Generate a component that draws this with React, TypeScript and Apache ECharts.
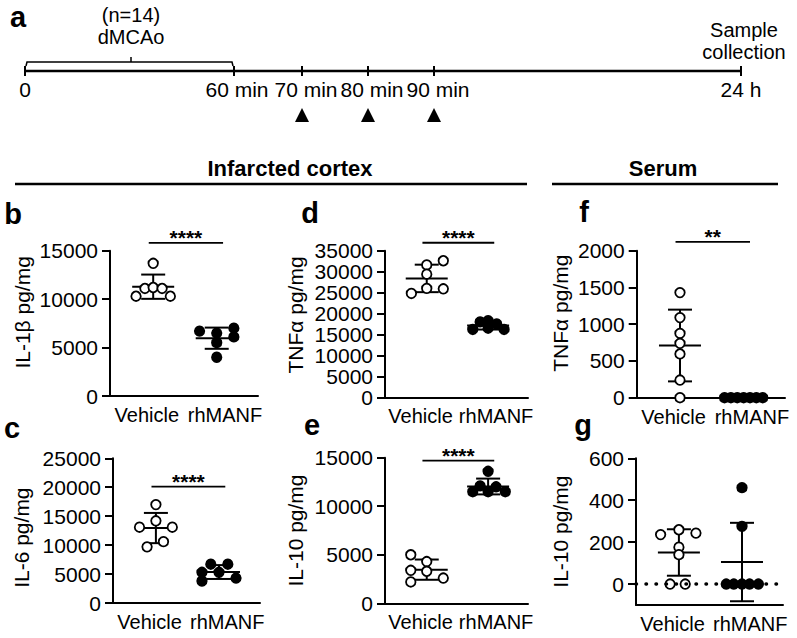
import React, { useEffect, useRef } from 'react';
import * as echarts from 'echarts';

const FONT = "'Liberation Sans', Arial, Helvetica, sans-serif";

// ---------- data ----------
const categories = ['Vehicle', 'rhMANF'];

// b: IL-1β infarcted cortex
const il1bVehicle = [13700, 10300, 11100, 11200, 11100, 10300];
const il1bManf = [6700, 6500, 7000, 6100, 5500, 4000];
const il1bTicks = [0, 5000, 10000, 15000];

// c: IL-6 infarcted cortex
const il6Vehicle = [17000, 14200, 13100, 13100, 9700, 10600];
const il6Manf = [6700, 6700, 5300, 5300, 3800, 4300];
const il6Ticks = [0, 5000, 10000, 15000, 20000, 25000];

// d: TNFα infarcted cortex
const tnfCtxVehicle = [24800, 31600, 29400, 26000, 32600, 25900];
const tnfCtxManf = [16200, 18000, 18300, 16500, 17500, 16200];
const tnfCtxTicks = [0, 5000, 10000, 15000, 20000, 25000, 30000, 35000];

// e: IL-10 infarcted cortex
const il10CtxVehicle = [5000, 3400, 2200, 4300, 3300, 2600];
const il10CtxManf = [13600, 11500, 12100, 11500, 12000, 11500];
const il10CtxTicks = [0, 5000, 10000, 15000];

// f: TNFα serum
const tnfSerumVehicle = [1430, 1090, 875, 740, 595, 240, 0];
const tnfSerumManf = [0, 0, 0, 0, 0, 0, 0];
const tnfSerumTicks = [0, 500, 1000, 1500, 2000];

// g: IL-10 serum
const il10SerumVehicle = [236, 259, 243, 176, 140, 0, 0];
const il10SerumManf = [460, 275, 0, 0, 0, 0, 0];
const il10SerumTicks = [0, 200, 400, 600];

// horizontal spread of the dots inside each column (column units)
const jitterB = { v: [0, -0.27, -0.13, 0, 0.14, 0.27], m: [-0.27, 0, 0.27, 0.27, 0, 0] };
const jitterC = { v: [0, 0, -0.26, 0.26, -0.14, 0.12], m: [-0.13, 0.14, -0.27, 0, -0.27, 0.27] };
const jitterD = { v: [-0.25, 0, 0, 0, 0.27, 0.27], m: [-0.25, -0.13, 0, 0, 0.14, 0.26] };
const jitterE = { v: [-0.26, -0.26, -0.26, 0, 0, 0.27], m: [0, -0.25, -0.13, 0, 0.13, 0.28] };
const jitterF = { v: [0, 0, 0, 0, 0, 0, 0], m: [-0.3, -0.2, -0.1, 0, 0.1, 0.2, 0.3] };
const jitterG = { v: [-0.29, 0, 0.27, 0, 0, -0.14, 0.1], m: [0, 0, -0.25, -0.13, 0, 0.12, 0.26] };

const sigStars = ['****', '****', '****', '****', '**'];

// timeline
const timeLabels = ['0', '60 min', '70 min', '80 min', '90 min', '24 h'];
const injectionLabels = ['70 min', '80 min', '90 min'];

// ---------- helpers ----------
function meanSd(a: number[]) {
  const m = a.reduce((s, v) => s + v, 0) / a.length;
  const sd = Math.sqrt(a.reduce((s, v) => s + (v - m) * (v - m), 0) / (a.length - 1));
  return [m, sd];
}

const X_MIN = 0.32;
const X_MAX = 2.65;

type Panel = {
  letter: string;
  letterPos: [number, number];
  left: number; top: number; width: number; height: number;
  yName: string; nameGap: number; nameShift: number;
  ticks: number[]; min: number;
  vehicle: number[]; manf: number[];
  jit: { v: number[]; m: number[] };
  sigY?: number; stars?: string;
  zeroLine?: boolean;
};

const panels: Panel[] = [
  { letter: 'b', letterPos: [13, 214], left: 110, top: 250.7, width: 148, height: 145.3, yName: 'IL-1β pg/mg', nameGap: 77, nameShift: 11,
    ticks: il1bTicks, min: 0, vehicle: il1bVehicle, manf: il1bManf, jit: jitterB, sigY: 15800, stars: sigStars[0] },
  { letter: 'c', letterPos: [12, 428], left: 113, top: 458.3, width: 147, height: 144.7, yName: 'IL-6 pg/mg', nameGap: 81, nameShift: -7,
    ticks: il6Ticks, min: 0, vehicle: il6Vehicle, manf: il6Manf, jit: jitterC, sigY: 20100, stars: sigStars[1] },
  { letter: 'd', letterPos: [310, 213], left: 385, top: 250.7, width: 143, height: 146.6, yName: 'TNFα pg/mg', nameGap: 79, nameShift: 9,
    ticks: tnfCtxTicks, min: 0, vehicle: tnfCtxVehicle, manf: tnfCtxManf, jit: jitterD, sigY: 36900, stars: sigStars[2] },
  { letter: 'e', letterPos: [312, 425], left: 385, top: 457.7, width: 143, height: 145.6, yName: 'IL-10 pg/mg', nameGap: 79, nameShift: 0,
    ticks: il10CtxTicks, min: 0, vehicle: il10CtxVehicle, manf: il10CtxManf, jit: jitterE, sigY: 14700, stars: sigStars[3] },
  { letter: 'f', letterPos: [584, 212], left: 636.7, top: 250.7, width: 148.3, height: 147, yName: 'TNFα pg/mg', nameGap: 66, nameShift: 11,
    ticks: tnfSerumTicks, min: 0, vehicle: tnfSerumVehicle, manf: tnfSerumManf, jit: jitterF, sigY: 2120, stars: sigStars[4] },
  { letter: 'g', letterPos: [583, 425], left: 636, top: 458.3, width: 147, height: 146.7, yName: 'IL-10 pg/mg', nameGap: 65, nameShift: 0,
    ticks: il10SerumTicks, min: -100, vehicle: il10SerumVehicle, manf: il10SerumManf, jit: jitterG, zeroLine: true },
];

function buildOption() {
  const grid: any[] = [];
  const xAxis: any[] = [];
  const yAxis: any[] = [];
  const series: any[] = [];
  const graphic: any[] = [];

  panels.forEach((p, i) => {
    grid.push({ left: p.left, top: p.top, width: p.width, height: p.height, containLabel: false });
    xAxis.push({
      gridIndex: i, type: 'value', min: X_MIN, max: X_MAX,
      axisLine: { show: true, onZero: false, lineStyle: { color: '#000', width: 2 } },
      axisTick: { show: false }, splitLine: { show: false },
      axisLabel: {
        customValues: [0.9, 2.13],
        formatter: (v: number) => (v < 1.5 ? categories[0] : categories[1]),
        fontSize: 20, color: '#000', fontFamily: FONT, margin: 9,
      },
    });
    const regular = p.min === p.ticks[0];
    const pad = p.nameShift >= 0 ? [0, 0, 0, 2 * p.nameShift] : [0, -2 * p.nameShift, 0, 0];
    const yAx: any = {
      gridIndex: i, type: 'value', min: p.min, max: p.ticks[p.ticks.length - 1],
      axisLine: { show: true, onZero: false, lineStyle: { color: '#000', width: 2 } },
      axisTick: { show: true, length: 8, lineStyle: { color: '#000', width: 2 } },
      splitLine: { show: false },
      axisLabel: { fontSize: 21, color: '#000', fontFamily: FONT, margin: 12, formatter: (v: number) => String(v) },
      name: p.yName, nameLocation: 'middle', nameGap: p.nameGap,
      nameTextStyle: { fontSize: 21, color: '#000', fontFamily: FONT, padding: pad },
    };
    if (regular) {
      yAx.interval = p.ticks[1] - p.ticks[0];
    } else {
      yAx.axisLabel.customValues = p.ticks;
      yAx.axisTick.customValues = p.ticks;
    }
    yAxis.push(yAx);

    const [mv, sv] = meanSd(p.vehicle);
    const [mm, sm] = meanSd(p.manf);

    const errSeries: any = {
      type: 'custom', xAxisIndex: i, yAxisIndex: i, z: 2, clip: false, silent: true,
      data: [[1, mv, sv], [2, mm, sm]],
      renderItem: (params: any, api: any) => {
        const x = api.value(0), m = api.value(1), s = api.value(2);
        const c = api.coord([x, m]);
        const t = api.coord([x, m + s]);
        const b = api.coord([x, m - s]);
        const st = { stroke: '#000', lineWidth: 2 };
        return {
          type: 'group',
          children: [
            { type: 'line', shape: { x1: c[0] - 21, y1: c[1], x2: c[0] + 21, y2: c[1] }, style: st },
            { type: 'line', shape: { x1: t[0], y1: t[1], x2: b[0], y2: b[1] }, style: st },
            { type: 'line', shape: { x1: t[0] - 12, y1: t[1], x2: t[0] + 12, y2: t[1] }, style: st },
            { type: 'line', shape: { x1: b[0] - 12, y1: b[1], x2: b[0] + 12, y2: b[1] }, style: st },
          ],
        };
      },
    };
    if (p.zeroLine) {
      errSeries.markLine = {
        silent: true, symbol: 'none', label: { show: false },
        lineStyle: { color: '#000', width: 3.5, type: [0.5, 9.5], cap: 'round' },
        data: [{ yAxis: 0 }],
      };
    }
    series.push(errSeries);

    series.push({
      type: 'scatter', xAxisIndex: i, yAxisIndex: i, z: 3, symbol: 'circle', symbolSize: 9.5,
      itemStyle: { color: '#fff', borderColor: '#000', borderWidth: 1.8, opacity: 1 },
      data: p.vehicle.map((v, k) => [1 + p.jit.v[k], v]),
    });
    series.push({
      type: 'scatter', xAxisIndex: i, yAxisIndex: i, z: 3, symbol: 'circle', symbolSize: 9.5,
      itemStyle: { color: '#000', borderColor: '#000', borderWidth: 1.8, opacity: 1 },
      data: p.manf.map((v, k) => [2 + p.jit.m[k], v]),
    });

    if (p.sigY !== undefined) {
      const stars = p.stars;
      series.push({
        type: 'custom', xAxisIndex: i, yAxisIndex: i, z: 3, clip: false, silent: true,
        data: [[0.93, 2.1, p.sigY]],
        renderItem: (params: any, api: any) => {
          const a = api.coord([api.value(0), api.value(2)]);
          const b = api.coord([api.value(1), api.value(2)]);
          return {
            type: 'group',
            children: [
              { type: 'line', shape: { x1: a[0], y1: a[1], x2: b[0], y2: b[1] }, style: { stroke: '#000', lineWidth: 1.8 } },
              { type: 'text', x: (a[0] + b[0]) / 2, y: a[1] - 5,
                style: { text: stars, font: `bold 21px ${FONT}`, fill: '#000', align: 'center', verticalAlign: 'middle' } },
            ],
          };
        },
      });
    }

    graphic.push({ type: 'text', x: p.letterPos[0], y: p.letterPos[1],
      style: { text: p.letter, font: `bold 29px ${FONT}`, fill: '#000', align: 'center', verticalAlign: 'middle' } });
  });

  // ---- panel a: timeline schematic ----
  const tlY = 71;
  const tickX = [25, 234, 302, 368, 434, 741];
  const labelDx = [0, 3, 4, 4, 4, 0];
  graphic.push({ type: 'text', x: 18, y: 17, style: { text: 'a', font: `bold 29px ${FONT}`, fill: '#000', align: 'center', verticalAlign: 'middle' } });
  graphic.push({ type: 'line', shape: { x1: tickX[0], y1: tlY, x2: tickX[5], y2: tlY }, style: { stroke: '#000', lineWidth: 2.5 } });
  tickX.forEach((x, k) => {
    graphic.push({ type: 'line', shape: { x1: x, y1: tlY - 5, x2: x, y2: tlY + 5 }, style: { stroke: '#000', lineWidth: 2 } });
    graphic.push({ type: 'text', x: x + labelDx[k], y: 89,
      style: { text: timeLabels[k], font: `21px ${FONT}`, fill: '#000', align: 'center', verticalAlign: 'middle' } });
  });
  injectionLabels.forEach((lab) => {
    const x = tickX[timeLabels.indexOf(lab)];
    graphic.push({ type: 'polygon', shape: { points: [[x - 7, 122], [x + 7, 122], [x, 108]] }, style: { fill: '#000' } });
  });
  // bracket for dMCAo
  graphic.push({ type: 'polyline', shape: { points: [[26, 66], [27, 62], [232, 62], [233, 66]] }, style: { stroke: '#000', lineWidth: 1.5, fill: 'none' } });
  graphic.push({ type: 'line', shape: { x1: 131, y1: 62, x2: 131, y2: 57 }, style: { stroke: '#000', lineWidth: 1.5 } });
  graphic.push({ type: 'text', x: 131, y: 15, style: { text: '(n=14)', font: `20px ${FONT}`, fill: '#000', align: 'center', verticalAlign: 'middle' } });
  graphic.push({ type: 'text', x: 131, y: 37, style: { text: 'dMCAo', font: `20px ${FONT}`, fill: '#000', align: 'center', verticalAlign: 'middle' } });
  graphic.push({ type: 'text', x: 744, y: 30, style: { text: 'Sample', font: `20px ${FONT}`, fill: '#000', align: 'center', verticalAlign: 'middle' } });
  graphic.push({ type: 'text', x: 744, y: 52, style: { text: 'collection', font: `20px ${FONT}`, fill: '#000', align: 'center', verticalAlign: 'middle' } });

  // section headers
  graphic.push({ type: 'text', x: 290, y: 168, style: { text: 'Infarcted cortex', font: `bold 22px ${FONT}`, fill: '#000', align: 'center', verticalAlign: 'middle' } });
  graphic.push({ type: 'line', shape: { x1: 15, y1: 184, x2: 527, y2: 184 }, style: { stroke: '#000', lineWidth: 2.5 } });
  graphic.push({ type: 'text', x: 663, y: 168, style: { text: 'Serum', font: `bold 22px ${FONT}`, fill: '#000', align: 'center', verticalAlign: 'middle' } });
  graphic.push({ type: 'line', shape: { x1: 552, y1: 184, x2: 778, y2: 184 }, style: { stroke: '#000', lineWidth: 2.5 } });

  return {
    animation: false,
    backgroundColor: '#fff',
    textStyle: { fontFamily: FONT },
    grid, xAxis, yAxis, series, graphic,
  };
}

export default function App() {
  const ref = useRef<HTMLDivElement>(null);
  useEffect(() => {
    if (!ref.current) return;
    const chart = echarts.init(ref.current, undefined, { renderer: 'svg' });
    chart.setOption(buildOption() as any);
    return () => chart.dispose();
  }, []);
  return (
    <div
      ref={ref}
      style={{ position: 'absolute', left: 0, top: 0, width: 797, height: 638, background: '#fff' }}
    />
  );
}
